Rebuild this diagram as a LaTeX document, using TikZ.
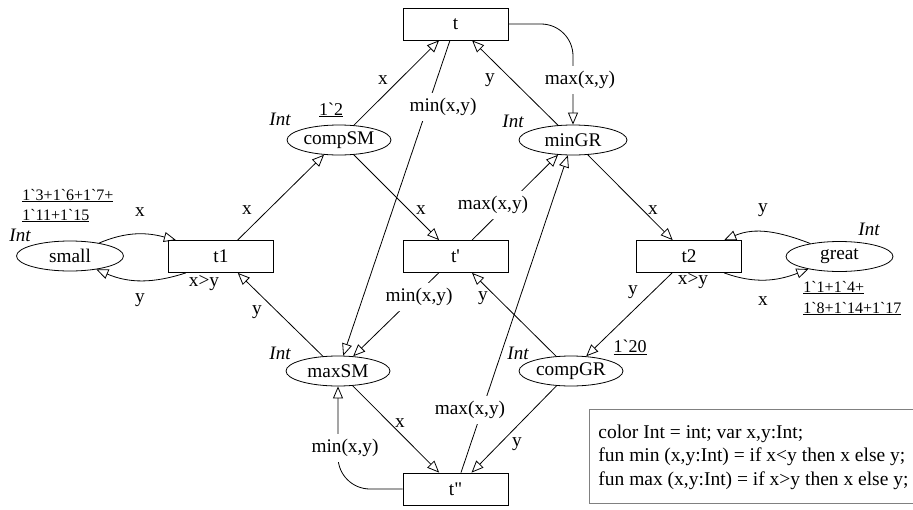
\documentclass[tikz,border=0pt]{standalone}
\usepackage{fontspec}
\setmainfont{Liberation Serif}[Ligatures=TeXOff]
\usetikzlibrary{arrows.meta,shapes.geometric}
\begin{document}
\begin{tikzpicture}[x=1pt,y=-1pt, line width=0.8pt,
  every node/.style={font=\fontsize{19.3}{20}\selectfont},
  trans/.style={draw, rectangle, minimum width=105pt, minimum height=32pt, inner sep=0pt},
  place/.style={draw, ellipse, minimum width=104pt, minimum height=30pt, inner sep=0pt},
  arc/.style={-{Triangle[open,length=12pt,width=10pt]}},
  lbl/.style={inner sep=1pt},
  wlbl/.style={fill=white, inner sep=5pt},
  mk/.style={inner sep=0pt, anchor=base west, font=\fontsize{16}{17}\selectfont},
  mk2/.style={inner sep=1pt, font=\fontsize{18}{19}\selectfont},
  decl/.style={inner sep=0pt, anchor=base west, font=\fontsize{19.5}{20}\selectfont},
  typ/.style={inner sep=0pt, font=\fontsize{19}{20}\selectfont\itshape},
]
\useasboundingbox (0,0) rectangle (913,509);
% transitions
\node[trans] (t)   at (455.5,24)  {t};
\node[trans] (t1)  at (221,256.5) {t1};
\node[trans] (tp)  at (455.5,256.5) {t'};
\node[trans] (t2)  at (689,256.5) {t2};
\node[trans] (tpp) at (455.5,489) {t"};
% places
\node[place] (small)  at (70,256)  [minimum width=107pt] {small};
\node[place] (compSM) at (339,140) {compSM};
\node[place] (minGR)  at (573,140) [minimum width=108pt] {minGR};
\node[place] (maxSM)  at (338,371) {maxSM};
\node[place] (compGR) at (571,371) {compGR};
\node[place] (great)  at (839.5,256.5) [minimum width=107pt] {great};
% arcs
\draw[arc] (compSM) -- (t);
\draw[arc] (t) -- (maxSM);
\draw[arc] (minGR) -- (t);
\draw[arc, rounded corners=32pt] (t.east) -| (minGR.north);
\draw[arc] (t1) -- (compSM);
\draw[arc] (compSM) -- (tp);
\draw[arc] (tp) -- (minGR);
\draw[arc] (tpp) -- (minGR);
\draw[arc] (minGR) -- (t2);
\draw[arc] (tp) -- (maxSM);
\draw[arc] (compGR) -- (tp);
\draw[arc] (maxSM) -- (t1);
\draw[arc] (t2) -- (compGR);
\draw[arc] (maxSM) -- (tpp);
\draw[arc] (compGR) -- (tpp);
\draw[arc, rounded corners=32pt] (tpp.west) -| (maxSM.south);
\draw[arc] (small.24) to[out=23,in=165] (t1.160);
\draw[arc] (t1.205) to[out=198,in=-23] (small.-27);
\draw[arc] (great.156) to[out=159,in=23] (t2.25);
\draw[arc] (t2.-25) to[out=-20,in=201] (great.202);
% arc labels
\node[lbl] (l1) at (140,212) {x};
\node[lbl] (l2) at (140,300) {y};
\node[lbl] (l3) at (204,283) {x>y};
\node[lbl] (l4) at (247,210) {x};
\node[lbl] (l5) at (383,80) {x};
\node[wlbl] (l6) at (443,107) {min(x,y)};
\node[lbl] (l7) at (490,80) {y};
\node[wlbl] (l8) at (580,80) {max(x,y)};
\node[lbl] (l9) at (421,210) {x};
\node[wlbl] (l10) at (493,205) {max(x,y)};
\node[lbl] (l11) at (653,210) {x};
\node[lbl] (l12) at (763,210) {y};
\node[lbl] (l13) at (763,301) {x};
\node[lbl] (l14) at (693,281) {x>y};
\node[lbl] (l15) at (633,292) {y};
\node[lbl] (l16) at (483,298) {y};
\node[wlbl] (l17) at (419,297) {min(x,y)};
\node[lbl] (l18) at (257,312) {y};
\node[lbl] (l19) at (400,423) {x};
\node[wlbl] (l20) at (470,410) {max(x,y)};
\node[lbl] (l21) at (517,444) {y};
\node[wlbl] (l22) at (345,448) {min(x,y)};
% types
\node[typ] (ty1) at (20,235) {Int};
\node[typ] (ty2) at (280,119) {Int};
\node[typ] (ty3) at (513,121) {Int};
\node[typ] (ty4) at (869,229) {Int};
\node[typ] (ty5) at (518,353) {Int};
\node[typ] (ty6) at (280,353) {Int};
% initial markings
\node[mk] (m1) at (22,200) {\underline{1`3+1`6+1`7+}};
\node[mk] (m2) at (22,220) {\underline{1`11+1`15}};
\node[mk2] (m3) at (331,110) {\underline{1`2}};
\node[mk2] (m4) at (630,347) {\underline{1`20}};
\node[mk] (m5) at (803,292) {\underline{1`1+1`4+}};
\node[mk] (m6) at (803,313) {\underline{1`8+1`14+1`17}};
% declarations
\draw[gray, line width=0.8pt] (915,409) -- (589,409) -- (589,503) -- (915,503);
\node[decl] (d1) at (598,438) {color Int = int; var x,y:Int;};
\node[decl] (d2) at (598,461.5) {fun min (x,y:Int) = if x<y then x else y;};
\node[decl] (d3) at (598,485) {fun max (x,y:Int) = if x>y then x else y;};
\end{tikzpicture}
\end{document}
